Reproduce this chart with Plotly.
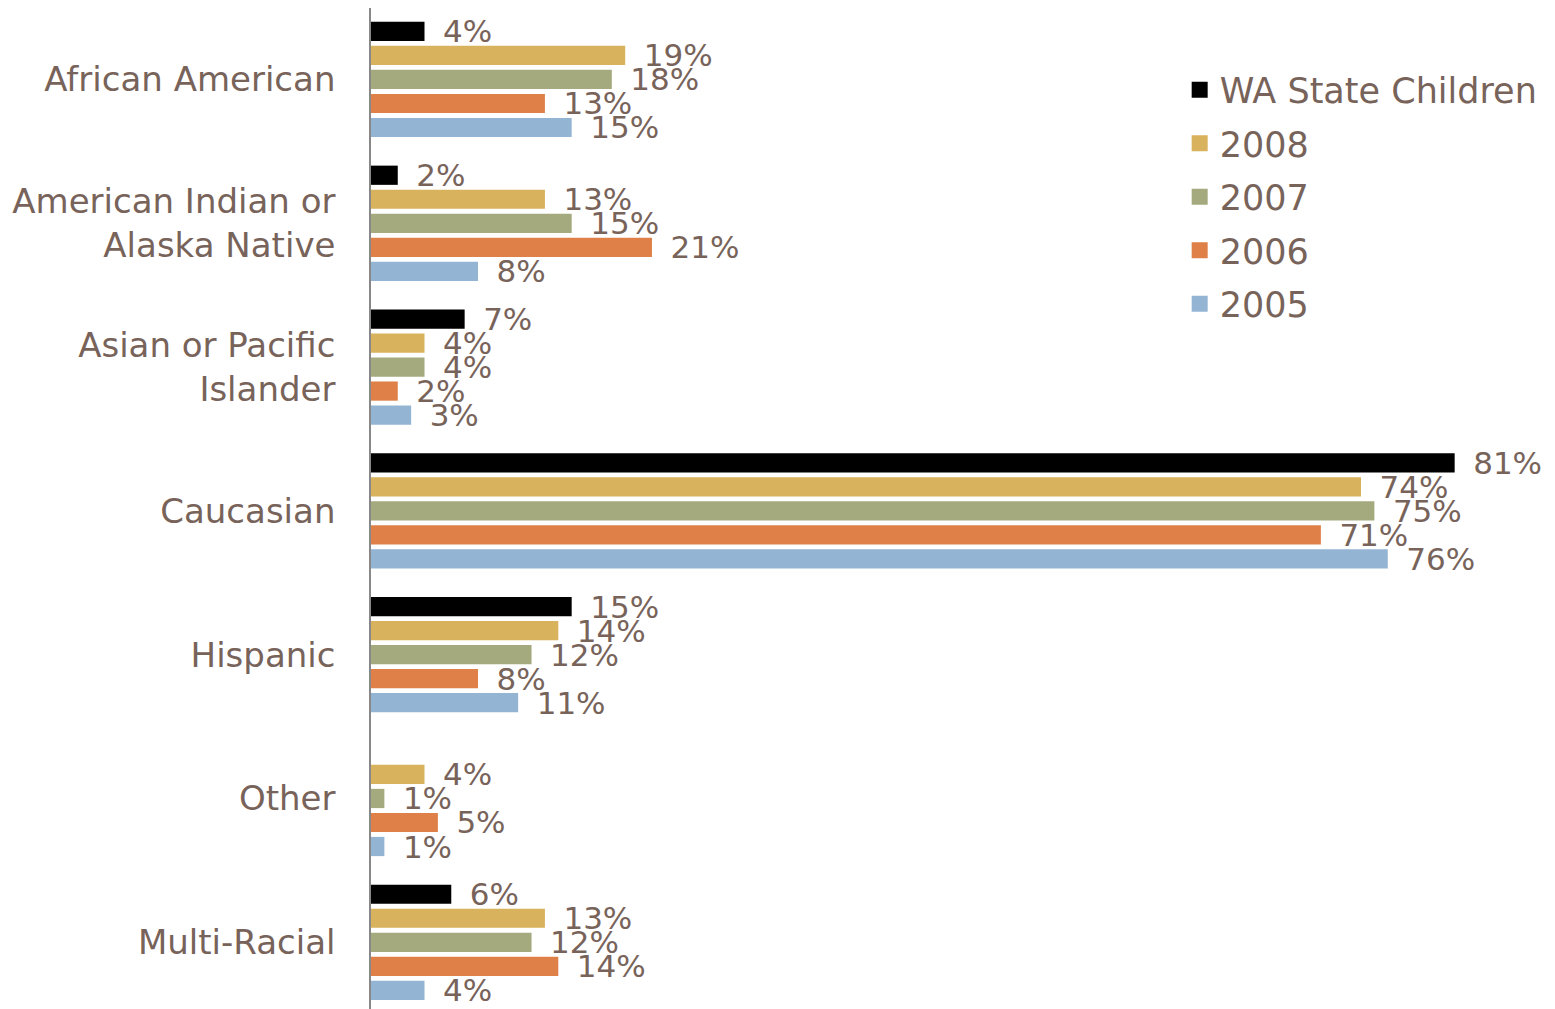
import plotly.graph_objects as go

categories = ["African American", "American Indian or<br>Alaska Native", "Asian or Pacific<br>Islander",
              "Caucasian", "Hispanic", "Other", "Multi-Racial"]
series_names = ["WA State Children", "2008", "2007", "2006", "2005"]
wa_state = [4, 2, 7, 81, 15, None, 6]
y2008 = [19, 13, 4, 74, 14, 4, 13]
y2007 = [18, 15, 4, 75, 12, 1, 12]
y2006 = [13, 21, 2, 71, 8, 5, 14]
y2005 = [15, 8, 3, 76, 11, 1, 4]
colors = ["#000000", "#D8B25C", "#A4AA7E", "#DE8047", "#93B5D3"]

TXT = "#78635A"
FONT = "DejaVu Sans"

fig = go.Figure()
for name, vals, col in zip(series_names, [wa_state, y2008, y2007, y2006, y2005], colors):
    fig.add_trace(go.Bar(
        y=categories, x=vals, name=name, orientation="h", legendgroup=name,
        showlegend=False,
        marker=dict(color=col, line=dict(width=0)),
        text=[("" if v is None else "\u2002" + f"{v}%") for v in vals],
        textposition="outside", cliponaxis=False, constraintext="none",
        textfont=dict(family=FONT, size=31, color=TXT),
    ))
# legend entries with larger square swatches
for name, col in zip(series_names, colors):
    fig.add_trace(go.Scatter(
        x=[None], y=[None], mode="markers", name=name, legendgroup=name,
        marker=dict(symbol="square", size=22, color=col, line=dict(width=0)),
        showlegend=True, hoverinfo="skip",
    ))

fig.update_layout(
    width=1547, height=1001,
    barmode="group", bargap=0.165, bargroupgap=0.2,
    plot_bgcolor="white", paper_bgcolor="white",
    margin=dict(l=363, r=0, t=0, b=0, autoexpand=False),
    font=dict(family=FONT, color=TXT),
    legend=dict(x=0.683, y=0.9475, xanchor="left", yanchor="top",
                font=dict(family=FONT, size=35, color=TXT),
                traceorder="grouped", tracegroupgap=5, itemsizing="trace",
                bgcolor="rgba(0,0,0,0)"),
    xaxis=dict(range=[0, 88.5], visible=False, showgrid=False, zeroline=False),
    yaxis=dict(range=[6.464, -0.497], showline=True, linecolor="#888888", linewidth=1.5,
               showgrid=False, ticks="outside", ticklen=27, tickcolor="rgba(0,0,0,0)",
               tickfont=dict(family=FONT, size=34, color=TXT)),
)
fig.write_html("out.html")
